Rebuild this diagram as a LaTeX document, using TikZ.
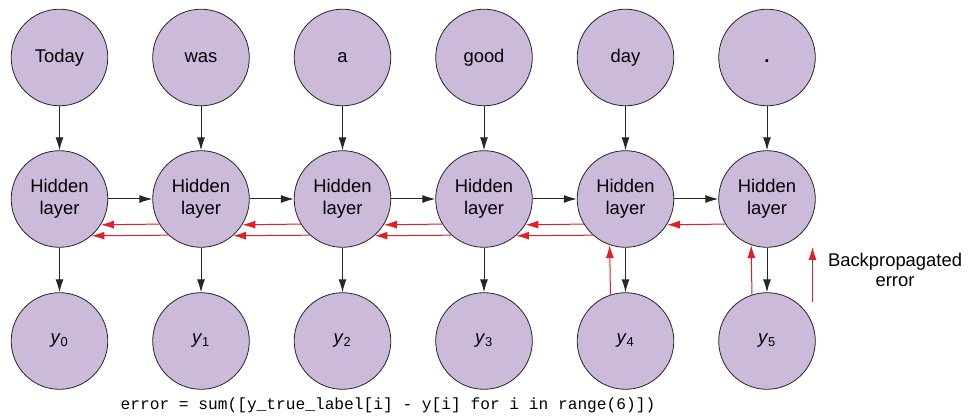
\documentclass[tikz,border=0pt]{standalone}
\usepackage{fontspec}
\setmainfont{Liberation Sans}
\setmonofont{Liberation Mono}
\usetikzlibrary{arrows.meta, positioning}

\definecolor{lilas}{RGB}{203,186,218}
\definecolor{vermelho}{RGB}{228,30,38}

\tikzset{
  no/.style={circle, draw=black!85, line width=0.8pt, fill=lilas, minimum size=96.6pt,
    inner sep=0pt, align=center, font=\fontsize{18.4}{22}\selectfont},
  seta/.style={-{Latex[length=13pt,width=8pt]}, line width=1pt, black!85},
  erro/.style={-{Latex[length=13pt,width=8pt]}, line width=1pt, vermelho}
}

\begin{document}
\begin{tikzpicture}[x=1pt, y=1pt]
        % Variáveis base
        \def\yA{359.5}  % linha das palavras
        \def\yB{218}    % linha das camadas ocultas
        \def\yC{76}     % linha das saídas

        \useasboundingbox (0,0) rectangle (968,417);

        % Palavras de entrada
        \node[no] (w0) at (59.5, \yA) {Today};
        \node[no] (w1) at (201, \yA) {was};
        \node[no] (w2) at (342.5, \yA) {a};
        \node[no] (w3) at (484, \yA) {good};
        \node[no] (w4) at (625.5, \yA) {day};
        \node[no] (w5) at (767, \yA) {\vphantom{Today}\textbf{.}};

        % Camadas ocultas
        \node[no] (h0) at (59.5, \yB) {Hidden\\layer};
        \node[no] (h1) at (201, \yB) {Hidden\\layer};
        \node[no] (h2) at (342.5, \yB) {Hidden\\layer};
        \node[no] (h3) at (484, \yB) {Hidden\\layer};
        \node[no] (h4) at (625.5, \yB) {Hidden\\layer};
        \node[no] (h5) at (767, \yB) {Hidden\\layer};

        % Saídas
        \node[no] (y0) at (59.5, \yC) {\textit{y}\textsubscript{0}};
        \node[no] (y1) at (201, \yC) {\textit{y}\textsubscript{1}};
        \node[no] (y2) at (342.5, \yC) {\textit{y}\textsubscript{2}};
        \node[no] (y3) at (484, \yC) {\textit{y}\textsubscript{3}};
        \node[no] (y4) at (625.5, \yC) {\textit{y}\textsubscript{4}};
        \node[no] (y5) at (767, \yC) {\textit{y}\textsubscript{5}};

        % Entrada -> camada oculta
        \draw[seta] (w0) -- (h0);
        \draw[seta] (w1) -- (h1);
        \draw[seta] (w2) -- (h2);
        \draw[seta] (w3) -- (h3);
        \draw[seta] (w4) -- (h4);
        \draw[seta] (w5) -- (h5);

        % Camada oculta -> próxima camada oculta
        \draw[seta] (h0) -- (h1);
        \draw[seta] (h1) -- (h2);
        \draw[seta] (h2) -- (h3);
        \draw[seta] (h3) -- (h4);
        \draw[seta] (h4) -- (h5);

        % Camada oculta -> saída
        \draw[seta] (h0) -- (y0);
        \draw[seta] (h1) -- (y1);
        \draw[seta] (h2) -- (y2);
        \draw[seta] (h3) -- (y3);
        \draw[seta] (h4) -- (y4);
        \draw[seta] (h5) -- (y5);

        % Erro de y5 voltando pelas camadas
        \draw[erro] (y5.108.2) -- (h5.251.8);
        \draw[erro] (h5.211.4) -- (h4.328.6);
        \draw[erro] (h4.211.4) -- (h3.328.6);
        \draw[erro] (h3.211.4) -- (h2.328.6);
        \draw[erro] (h2.211.4) -- (h1.328.6);
        \draw[erro] (h1.211.4) -- (h0.328.6);

        % Erro de y4 voltando pelas camadas
        \draw[erro] (y4.108.2) -- (h4.251.8);
        \draw[erro] (h4.228.6) -- (h3.311.4);
        \draw[erro] (h3.228.6) -- (h2.311.4);
        \draw[erro] (h2.228.6) -- (h1.311.4);
        \draw[erro] (h1.228.6) -- (h0.311.4);

        % Legenda
        \coordinate (leg0) at (812.5, 115);
        \coordinate (leg1) at (812.5, 170);
        \draw[erro] (leg0) -- (leg1);
        \node[align=center, font=\fontsize{18.4}{20.5}\selectfont] (legenda) at (895, 147) {Backpropagated\\error};

        % Fórmula do erro
        \node[font=\ttfamily\fontsize{16.2}{18}\selectfont] (formula) at (388, 12)
            {error = sum([y\_true\_label[i] - y[i] for i in range(6)])};

    \end{tikzpicture}
\end{document}
